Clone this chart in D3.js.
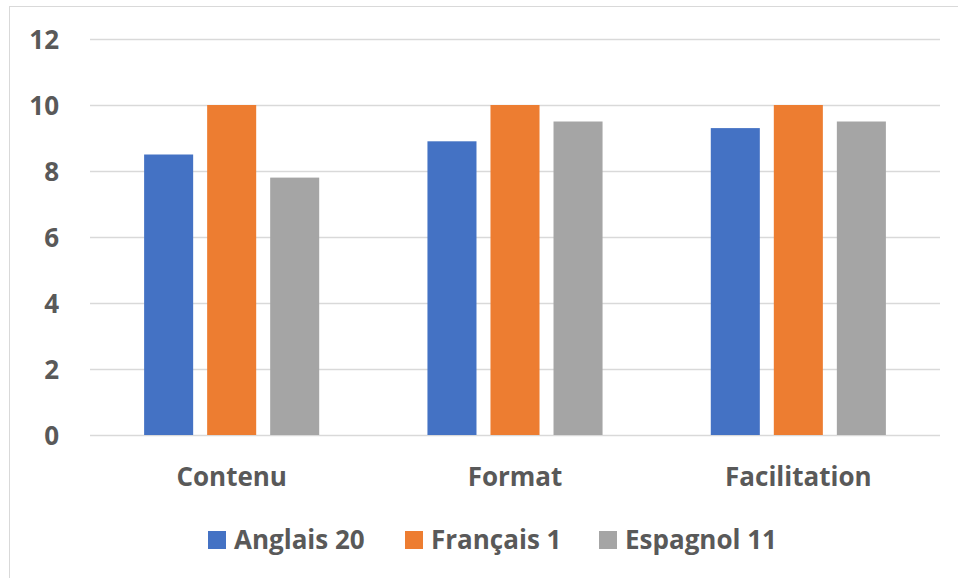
<!DOCTYPE html>
<html>
<head>
<meta charset="utf-8">
<script src="https://cdn.jsdelivr.net/npm/d3@7"></script>
<style>
  body { margin: 0; background: #fff; }
  svg text { font-family: "Open Sans", Lato, sans-serif; font-weight: bold; fill: #595959; }
</style>
</head>
<body>
<svg id="chart" width="958" height="578"></svg>
<script>
  const categories = ["Contenu", "Format", "Facilitation"];
  const series = ["Anglais 20", "Français 1", "Espagnol 11"];
  const colors = ["#4472C4", "#ED7D31", "#A5A5A5"];
  const values = [
    [8.5, 10, 7.8],   // Contenu
    [8.9, 10, 9.5],   // Format
    [9.3, 10, 9.5],   // Facilitation
  ];
  const yTicks = [0, 2, 4, 6, 8, 10, 12];

  const svg = d3.select("#chart");
  const plot = { left: 90, right: 940, top: 39, bottom: 435 };

  // chart frame (only top and left edges fall inside the picture)
  svg.append("rect")
    .attr("x", 9.5).attr("y", 6.5)
    .attr("width", 1000).attr("height", 1000)
    .attr("fill", "none").attr("stroke", "#d9d9d9");

  const y = d3.scaleLinear().domain([0, 12]).range([plot.bottom, plot.top]);
  const x0 = d3.scaleBand().domain(categories)
    .range([plot.left, plot.right])
    .paddingInner(0.382).paddingOuter(0.191);
  const x1 = d3.scaleBand().domain(series)
    .range([0, x0.bandwidth()])
    .paddingInner(0.222);

  // gridlines
  svg.append("g").selectAll("line").data(yTicks).join("line")
    .attr("x1", plot.left).attr("x2", plot.right)
    .attr("y1", d => y(d) + 0.5).attr("y2", d => y(d) + 0.5)
    .attr("stroke", "#d9d9d9").attr("stroke-width", 1.3);

  // y tick labels
  svg.append("g").selectAll("text").data(yTicks).join("text")
    .attr("x", 59).attr("y", d => y(d))
    .attr("text-anchor", "end").attr("dominant-baseline", "central")
    .attr("font-size", 26)
    .text(d => d);

  // bars
  const groups = svg.append("g").selectAll("g").data(categories).join("g")
    .attr("transform", d => `translate(${x0(d)},0)`);
  groups.selectAll("rect")
    .data((c, ci) => series.map((s, si) => ({ s, si, v: values[ci][si] })))
    .join("rect")
    .attr("x", d => x1(d.s))
    .attr("width", x1.bandwidth())
    .attr("y", d => y(d.v))
    .attr("height", d => y(0) - y(d.v))
    .attr("fill", d => colors[d.si]);

  // category labels
  svg.append("g").selectAll("text").data(categories).join("text")
    .attr("x", d => x0(d) + x0.bandwidth() / 2)
    .attr("y", 486)
    .attr("text-anchor", "middle")
    .attr("font-size", 26)
    .text(d => d);

  // legend
  const legendX = [208, 405, 599];
  const leg = svg.append("g").selectAll("g").data(series).join("g")
    .attr("transform", (d, i) => `translate(${legendX[i]},531)`);
  leg.append("rect").attr("width", 18).attr("height", 18)
    .attr("fill", (d, i) => colors[i]);
  leg.append("text").attr("x", 26).attr("y", 17.5)
    .attr("font-size", 26)
    .text(d => d);
</script>
</body>
</html>
